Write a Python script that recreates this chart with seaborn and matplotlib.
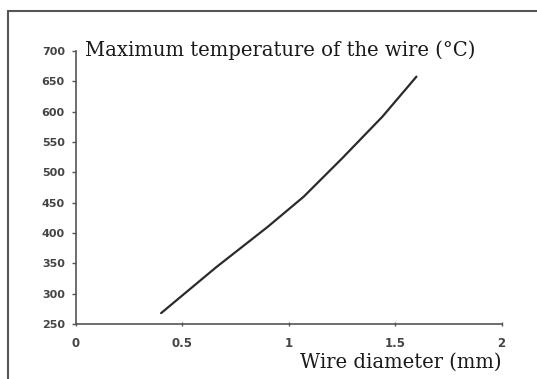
import matplotlib
matplotlib.use("Agg")
import matplotlib.pyplot as plt
import seaborn as sns
import pandas as pd
from matplotlib.lines import Line2D

diameter_mm = [0.40, 0.66, 0.90, 1.07, 1.25, 1.44, 1.60]
max_temp_c = [268, 344, 410, 460, 523, 592, 658]
x_ticks = [0, 0.5, 1, 1.5, 2]
x_tick_labels = ["0", "0.5", "1", "1.5", "2"]
y_ticks = [250, 300, 350, 400, 450, 500, 550, 600, 650, 700]

df = pd.DataFrame({"d": diameter_mm, "t": max_temp_c})

sns.set_theme(style="white")
plt.rcParams["font.family"] = ["DejaVu Sans"]

fig = plt.figure(figsize=(5.37, 3.79), dpi=100)
ax = fig.add_axes([0.1415, 0.145, 0.7925, 0.72])
sns.lineplot(data=df, x="d", y="t", ax=ax, color="#2b2b2b", linewidth=1.6)

ax.set_xlim(0, 2)
ax.set_ylim(250, 700)
ax.set_xticks(x_ticks)
ax.set_xticklabels(x_tick_labels)
ax.set_yticks(y_ticks)
for s in ["top", "right"]:
    ax.spines[s].set_visible(False)
for s in ["left", "bottom"]:
    ax.spines[s].set_color("#555555")
    ax.spines[s].set_linewidth(1.2)
ax.tick_params(axis="y", direction="out", length=3, width=1, color="#555555",
               labelsize=8, labelcolor="#444444", pad=5, left=True)
ax.tick_params(axis="x", direction="inout", length=3, width=1, color="#555555",
               labelsize=8.5, labelcolor="#444444", pad=8, bottom=True)
for lab in ax.get_xticklabels() + ax.get_yticklabels():
    lab.set_fontweight("bold")
ax.set_xlabel("")
ax.set_ylabel("")

fig.text(0.158, 0.868, "Maximum temperature of the wire (°C)", family="DejaVu Serif",
         fontsize=14.1, color="#1a1a1a", ha="left", va="center")
fig.text(0.934, 0.045, "Wire diameter (mm)", family="DejaVu Serif",
         fontsize=14.1, color="#1a1a1a", ha="right", va="center")

# scan frame
fig.add_artist(Line2D([0.015, 1.0], [0.971, 0.971], transform=fig.transFigure,
                      color="#555555", linewidth=1.5))
fig.add_artist(Line2D([0.015, 0.015], [0.0, 0.971], transform=fig.transFigure,
                      color="#555555", linewidth=1.5))

fig.savefig("out.png", dpi=100)
